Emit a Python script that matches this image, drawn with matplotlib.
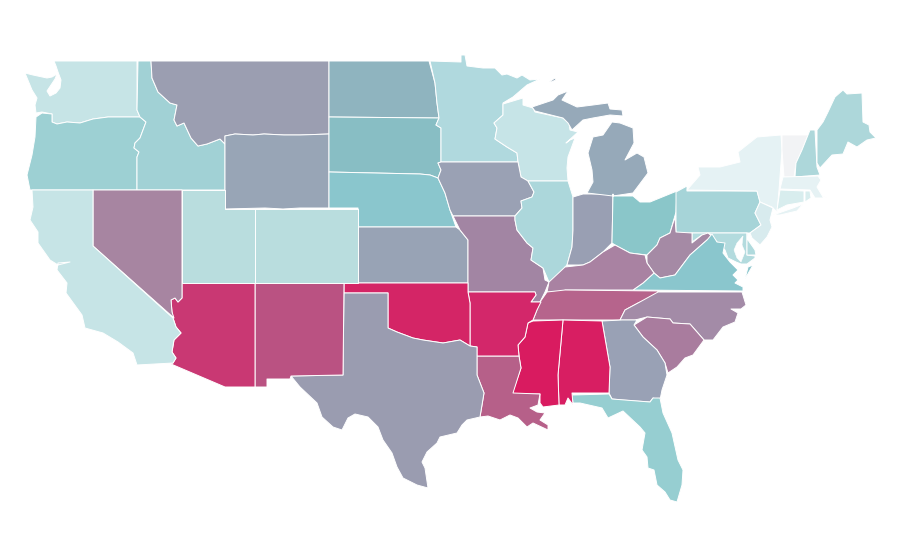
import matplotlib
matplotlib.use("Agg")
import matplotlib.pyplot as plt

# State outlines, as (x, y) in the map's own plane
WA = [(54,61),(137,61),(137,110),(140,117),(108,117),(93,119),(80,123),(67,122),(57,124),(52,122),(52,114),(42,112),(36,113),(35,105),(37,98),(32,90),(25,73),(33,75),(47,78),(52,77),(57,74),(55,79),(51,85),(47,91),(50,96),(56,93),(60,88),(61,80),(58,72),(56,66)]
OR = [(36,117),(42,113),(52,114),(52,122),(57,124),(67,122),(80,123),(93,119),(108,117),(140,117),(146,122),(143,130),(140,138),(135,143),(134,148),(139,152),(137,157),(137,190),(30,190),(27,175),(32,155),(35,137)]
ID = [(138,61),(151,61),(152,78),(158,92),(170,103),(177,105),(174,120),(177,126),(184,123),(191,138),(198,146),(207,144),(220,139),(225,144),(225,190),(137,190),(137,157),(139,152),(134,148),(135,143),(140,138),(143,130),(146,122),(140,117),(137,110)]
MT = [(151,61),(329,61),(329,134),(300,135),(284,135),(264,134),(253,135),(235,134),(225,136),(225,144),(220,139),(207,144),(198,146),(191,138),(184,123),(177,126),(174,120),(177,105),(170,103),(158,92),(152,78)]
WY = [(225,136),(235,134),(253,135),(264,134),(284,135),(300,135),(329,134),(329,208),(300,208),(283,209),(265,208),(225,209)]
ND = [(329,61),(429,61),(435,83),(437,103),(439,118),(329,117)]
SD = [(329,117),(439,118),(436,125),(441,128),(441,162),(438,163),(441,170),(438,178),(430,175),(420,174),(329,172)]
NE = [(329,172),(420,174),(430,175),(438,178),(445,193),(450,210),(456,227),(358,227),(358,208),(329,208)]
KS = [(358,227),(456,227),(460,230),(468,240),(468,283),(358,283)]
MN = [(430,61),(461,62),(461,55),(465,55),(467,66),(483,68),(495,68),(502,75),(507,74),(517,78),(522,75),(530,80),(540,79),(527,85),(513,97),(503,103),(503,115),(494,123),(497,128),(495,139),(507,147),(517,153),(518,162),(441,162),(441,128),(436,125),(439,118),(437,103),(435,83)]
WI = [(503,104),(523,98),(523,105),(533,108),(535,112),(563,118),(569,123),(570,130),(578,132),(566,143),(570,140),(575,138),(568,157),(567,168),(568,181),(528,181),(521,177),(518,162),(517,153),(507,147),(495,139),(497,128),(494,123),(503,115)]
IA = [(441,162),(518,162),(521,177),(528,181),(534,192),(532,197),(521,201),(522,208),(515,216),(453,216),(450,210),(445,193),(438,178),(441,170),(438,163)]
MO = [(453,216),(515,216),(515,220),(517,230),(527,243),(533,248),(531,260),(543,268),(545,280),(549,282),(545,292),(540,302),(531,302),(536,295),(535,292),(468,292),(468,240),(460,230)]
IL = [(528,181),(568,181),(573,197),(573,230),(572,247),(567,265),(565,267),(560,278),(549,282),(543,268),(531,260),(533,248),(527,243),(517,230),(515,220),(515,216),(522,208),(521,201),(532,197),(534,192)]
IN = [(573,197),(583,194),(613,194),(612,243),(603,252),(590,262),(583,265),(567,265),(572,247),(573,230)]
MI_U = [(532,107),(553,100),(558,95),(568,91),(562,100),(577,107),(593,105),(608,103),(610,109),(622,110),(623,116),(610,115),(593,118),(583,120),(572,130),(568,123),(563,118),(535,111)]
MI_L = [(587,193),(593,182),(592,170),(588,153),(593,137),(603,135),(612,122),(620,123),(633,128),(634,143),(625,160),(637,153),(644,157),(648,173),(633,193),(613,196)]
MI_I = [(549,82),(555,78),(556,80),(551,82)]
OH = [(613,196),(633,196),(640,202),(650,202),(677,191),(676,212),(670,233),(660,238),(657,245),(647,255),(630,253),(615,245),(612,243),(613,194)]
PA = [(676,192),(687,186),(687,191),(757,191),(760,202),(755,213),(761,225),(750,233),(676,233)]
NY = [(687,190),(700,175),(698,167),(720,167),(740,162),(738,152),(757,137),(781,135),(782,150),(779,190),(777,212),(772,207),(760,202),(757,191)]
LI = [(773,215),(793,208),(803,204),(797,211),(780,215)]
VT = [(782,135),(808,135),(802,150),(796,163),(794,177),(784,177),(782,150)]
NH = [(810,130),(815,130),(817,167),(820,175),(795,177),(796,163),(802,150),(808,135)]
ME = [(817,130),(823,122),(828,112),(835,97),(843,90),(847,94),(862,93),(863,122),(869,125),(870,132),(876,138),(867,140),(857,147),(848,142),(843,154),(832,155),(820,168),(817,163)]
MA = [(783,177),(818,176),(821,180),(817,187),(823,197),(830,196),(823,198),(815,198),(810,190),(780,189)]
RI = [(805,191),(810,191),(811,198),(805,202)]
CT = [(780,190),(804,191),(804,202),(787,205),(777,210)]
NJ = [(760,202),(773,208),(770,220),(772,227),(767,237),(760,245),(752,238),(750,233),(761,225),(755,213)]
DE = [(747,233),(748,240),(755,250),(756,255),(747,255)]
MD = [(692,233),(747,233),(747,255),(755,256),(755,258),(747,264),(741,264),(736,262),(728,258),(725,250),(717,242),(710,234),(702,235),(692,242)]
BAY = [(743,236),(737,243),(734,250),(737,258),(741,262),(745,252),(742,245)]
WV = [(647,255),(657,245),(660,238),(670,233),(675,217),(676,232),(692,233),(692,243),(702,235),(708,233),(713,237),(707,240),(690,255),(675,275),(660,278),(654,273),(647,263)]
VA = [(633,290),(643,283),(654,273),(660,278),(675,275),(690,255),(707,240),(712,234),(717,242),(725,243),(723,253),(730,262),(738,270),(733,275),(738,280),(735,283),(743,287),(743,291)]
VA_E = [(753,265),(745,279),(748,267)]
KY = [(547,292),(549,282),(565,267),(583,265),(590,262),(603,252),(615,245),(630,253),(645,255),(647,263),(654,273),(643,283),(633,290),(565,290),(565,292)]
TN = [(547,292),(565,290),(658,291),(657,295),(638,303),(625,310),(620,320),(533,320),(540,302)]
NC = [(620,320),(625,310),(638,303),(658,292),(742,292),(746,305),(741,309),(731,309),(738,313),(735,322),(723,327),(713,340),(704,340),(690,324),(673,323),(670,319),(647,317),(635,320)]
SC = [(634,325),(647,317),(670,319),(673,323),(690,324),(704,340),(693,355),(685,358),(677,367),(668,373),(665,363),(657,350),(643,337)]
GA = [(602,321),(622,320),(637,320),(634,325),(643,337),(657,350),(665,363),(667,375),(662,390),(660,400),(653,398),(650,402),(622,400),(612,399),(609,393),(610,367)]
FL = [(572,395),(609,394),(612,399),(650,402),(653,398),(660,398),(663,413),(672,433),(678,460),(683,470),(682,485),(677,502),(670,500),(665,492),(657,485),(654,470),(648,468),(647,457),(642,450),(645,433),(640,427),(623,411),(608,418),(602,408),(580,403),(573,403)]
AL = [(563,320),(602,321),(610,367),(609,393),(572,393),(573,405),(568,398),(565,405),(559,405),(558,375)]
MS = [(533,321),(563,320),(558,375),(559,405),(543,407),(540,403),(540,394),(512,394),(521,368),(519,356),(518,345),(525,337),(528,323)]
LA = [(477,356),(519,356),(521,368),(513,393),(540,394),(538,405),(530,408),(537,412),(545,413),(540,420),(548,425),(548,430),(533,423),(527,427),(518,418),(510,415),(500,420),(488,416),(480,417),(484,393),(477,375)]
AR = [(468,292),(535,292),(536,295),(531,302),(541,302),(537,310),(533,320),(528,323),(525,337),(518,345),(519,356),(477,356),(477,347),(470,346),(470,303)]
OK = [(344,283),(468,283),(468,292),(470,303),(470,346),(460,340),(443,343),(423,340),(413,338),(397,332),(388,328),(388,293),(344,293)]
TX = [(344,293),(388,293),(388,328),(397,332),(413,338),(423,340),(443,343),(460,340),(470,346),(477,347),(477,375),(484,393),(480,417),(467,420),(462,425),(457,433),(440,437),(437,443),(427,452),(422,462),(425,468),(428,488),(417,485),(403,478),(397,467),(392,453),(383,440),(378,427),(368,417),(355,414),(348,418),(342,430),(333,427),(322,417),(317,403),(300,387),(291,376),(343,375)]
NM = [(255,283),(344,283),(343,375),(291,376),(290,379),(267,379),(267,387),(255,387)]
AZ = [(182,283),(255,283),(255,387),(225,387),(171,364),(173,363),(176,358),(172,352),(174,340),(181,333),(176,327),(173,318),(172,312),(171,300),(175,298),(178,302),(182,298)]
NV = [(93,190),(182,190),(182,298),(178,302),(175,298),(171,300),(172,312),(174,318),(93,246)]
UT = [(182,190),(225,190),(225,209),(255,209),(255,283),(182,283)]
CO = [(255,209),(358,209),(358,283),(255,283)]
CA = [(32,190),(93,190),(93,246),(173,318),(176,327),(181,333),(174,340),(172,352),(176,358),(173,363),(137,365),(133,353),(118,342),(103,333),(85,328),(82,315),(66,293),(67,283),(57,270),(58,263),(70,262),(58,265),(50,260),(38,243),(38,232),(30,220),(33,207)]

regions = [WA, OR, ID, MT, WY, ND, SD, NE, KS, MN, WI, IA, MO, IL, IN, MI_U, MI_L, MI_I, OH, PA, NY, LI, VT, NH, ME, MA, RI, CT, NJ, MD, DE, WV, VA, VA_E, KY, TN, NC, SC, GA, FL, AL, MS, LA, AR, OK, TX, NM, AZ, NV, UT, CO, CA]
fills = ["#C6E4E6","#9DD0D3","#A1D1D5","#9B9EB1","#98A5B6","#8FB4BF","#88BEC4","#8AC6CD","#98A3B5","#B0D9DE","#C6E4E7","#9AA1B4","#A285A3","#ACD7DB","#999FB3","#96A9B9","#96A9B9","#96A9B9","#8AC6C9","#A6D4D8","#E5F2F4","#E5F2F4","#F2F3F5","#ADD7DA","#ADD7DA","#E6F2F4","#D8EDEE","#D8EDEE","#D8EBEE","#B3DBDE","#B0DADD","#A58AA5","#8AC6CD","#8AC6CD","#A982A2","#B6648C","#A38BA7","#A97C9E","#99A1B5","#96CED1","#D81E62","#D91B60","#B66089","#D3276A","#D42566","#9A9CB0","#BA5282","#C93873","#A785A1","#B9DDDE","#B9DDDE","#C6E4E6"]

fig = plt.figure(figsize=(9, 5.6), dpi=100)
ax = fig.add_axes([0, 0, 1, 1])
ax.set_xlim(0, 900)
ax.set_ylim(560, 0)
ax.axis("off")
for outline, colour in zip(regions, fills):
    xs, ys = zip(*outline)
    ax.fill(xs, ys, facecolor=colour, edgecolor="white", linewidth=0.7, joinstyle="round")
bx, by = zip(*BAY)
ax.fill(bx, by, facecolor="white", edgecolor="white", linewidth=0.4)
fig.savefig("out.png", dpi=100, facecolor="white")
